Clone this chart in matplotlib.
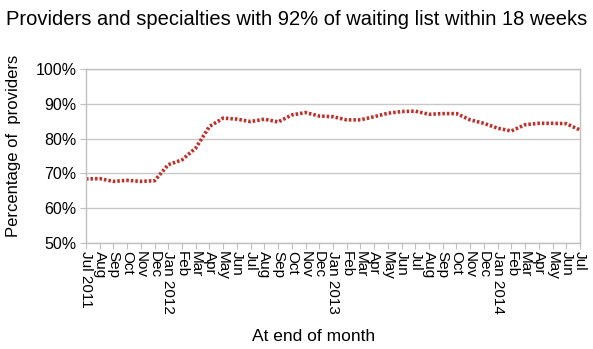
import matplotlib.pyplot as plt

plt.rcParams['font.family'] = ['Liberation Sans', 'DejaVu Sans']

# Month labels, Jul 2011 .. Jul 2014
months = ['Jul 2011', 'Aug', 'Sep', 'Oct', 'Nov', 'Dec',
          'Jan 2012', 'Feb', 'Mar', 'Apr', 'May', 'Jun', 'Jul', 'Aug', 'Sep', 'Oct', 'Nov', 'Dec',
          'Jan 2013', 'Feb', 'Mar', 'Apr', 'May', 'Jun', 'Jul', 'Aug', 'Sep', 'Oct', 'Nov', 'Dec',
          'Jan 2014', 'Feb', 'Mar', 'Apr', 'May', 'Jun', 'Jul']

# Percentage of providers
pct = [68.4, 68.5, 67.7, 68.0, 67.7, 67.9,
       72.5, 73.9, 77.3, 83.5, 85.9, 85.6, 84.9, 85.6, 84.8, 86.8, 87.5, 86.5,
       86.3, 85.4, 85.4, 86.3, 87.3, 87.8, 87.9, 87.0, 87.2, 87.2, 85.4, 84.4,
       83.0, 82.2, 84.0, 84.4, 84.4, 84.3, 82.5]

yticks = [50, 60, 70, 80, 90, 100]

fig = plt.figure(figsize=(5.93, 3.49), dpi=100)
ax = fig.add_axes([0.145, 0.304, 0.833, 0.498])

x = list(range(len(months)))
ax.plot(x, pct, color='#c0302a', linewidth=2.6, linestyle=(0, (0.7, 0.55)),
        solid_capstyle='butt', dash_capstyle='butt')

ax.set_xlim(0, len(months) - 1)
ax.set_ylim(50, 100)
ax.set_yticks(yticks)
ax.set_yticklabels([f'{v}%' for v in yticks], fontsize=11.5)
ax.set_xticks(x)
ax.set_xticklabels(months, rotation=-90, fontsize=11, va='top', ha='center')
ax.grid(axis='y', color='#c8c8c8', linewidth=1)
ax.set_axisbelow(True)

for s in ax.spines.values():
    s.set_color('#c0c0c0')
    s.set_linewidth(1)
ax.tick_params(axis='x', direction='out', length=4, color='#c0c0c0', pad=2)
ax.tick_params(axis='y', direction='out', length=4, color='#c0c0c0', pad=3)

fig.text(0.022, 0.582, 'Percentage of  providers', rotation=90, ha='center', va='center',
         fontsize=12)
fig.text(0.528, 0.035, 'At end of month', ha='center', va='center', fontsize=12.5)
fig.text(0.5, 0.945, 'Providers and specialties with 92% of waiting list within 18 weeks',
         ha='center', va='center', fontsize=14.5)

fig.savefig('out.png', dpi=100)
